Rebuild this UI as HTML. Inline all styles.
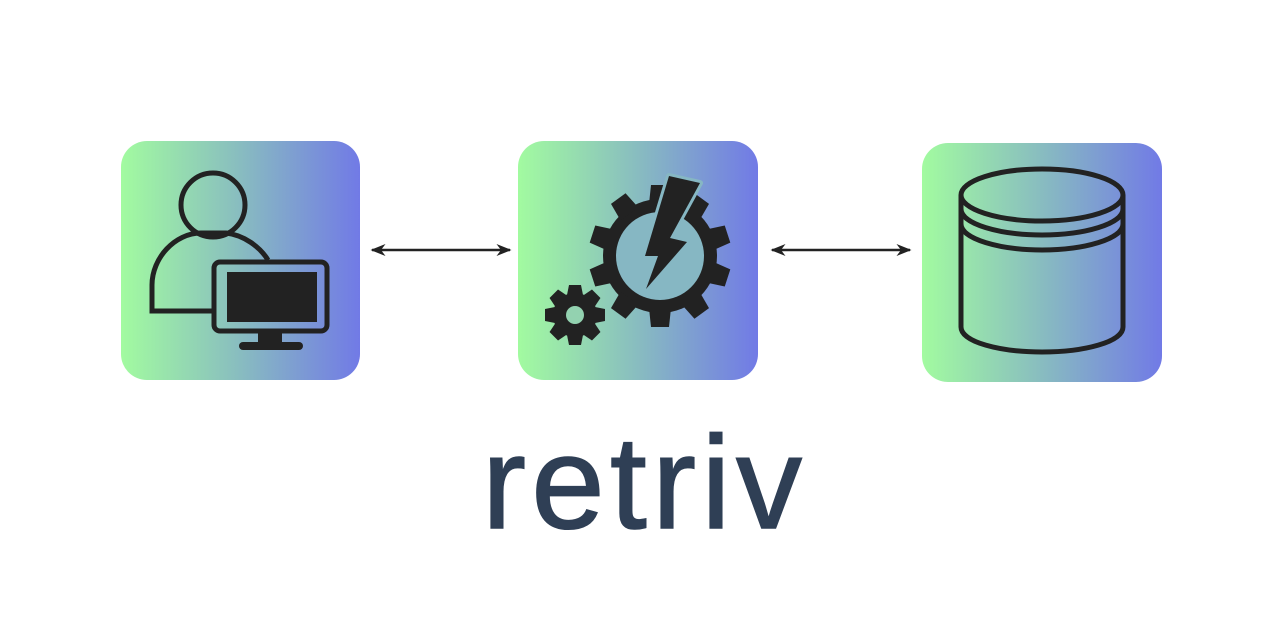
<!DOCTYPE html>
<html><head><meta charset="utf-8"><style>
html,body{margin:0;padding:0;background:#fff;width:1282px;height:642px;overflow:hidden}
</style></head><body>
<svg width="1282" height="642" viewBox="0 0 1282 642" xmlns="http://www.w3.org/2000/svg">
<defs>
<linearGradient id="g" x1="0" y1="0" x2="1" y2="0">
<stop offset="0" stop-color="#a2fba0"/><stop offset="0.5" stop-color="#88bcc0"/><stop offset="1" stop-color="#717ae6"/>
</linearGradient>
<marker id="ah" viewBox="0 0 10 10" refX="9" refY="5" markerWidth="15" markerHeight="15" markerUnits="userSpaceOnUse" orient="auto-start-reverse">
<path d="M0,1 L10,5 L0,9 L3,5 Z" fill="#222"/></marker>
<polygon id="tb" points="-11,-52 11,-52 9,-71 -9,-71"/>
<polygon id="ts" points="-8,-20 8,-20 6,-30 -6,-30"/>
</defs>
<rect x="121" y="141" width="239" height="239" rx="26" fill="url(#g)"/>
<rect x="518" y="141" width="240" height="239" rx="26" fill="url(#g)"/>
<rect x="922" y="143" width="240" height="239" rx="26" fill="url(#g)"/>

<line x1="372" y1="250" x2="510" y2="250" stroke="#222" stroke-width="2.5" marker-start="url(#ah)" marker-end="url(#ah)"/>
<line x1="772" y1="250" x2="910" y2="250" stroke="#222" stroke-width="2.5" marker-start="url(#ah)" marker-end="url(#ah)"/>

<!-- person -->
<g fill="none" stroke="#222" stroke-width="5">
<circle cx="213" cy="205" r="32"/>
<path d="M214,311 L152,311 L152,285 C152,258 175,233 201,233 L226,233 C244,235 260,247 268,260"/>
<rect x="214" y="262" width="113" height="69" rx="6"/>
</g>
<rect x="227" y="272" width="90" height="50" fill="#222"/>
<rect x="258" y="331" width="24" height="12" fill="#222"/>
<rect x="239" y="342" width="64" height="8" rx="4" fill="#222"/>

<!-- gears -->
<g fill="#222">
<g transform="translate(660,256)">
<circle r="57"/>
<use href="#tb"/>
<use href="#tb" transform="rotate(36)"/>
<use href="#tb" transform="rotate(72)"/>
<use href="#tb" transform="rotate(108)"/>
<use href="#tb" transform="rotate(144)"/>
<use href="#tb" transform="rotate(180)"/>
<use href="#tb" transform="rotate(216)"/>
<use href="#tb" transform="rotate(252)"/>
<use href="#tb" transform="rotate(288)"/>
<use href="#tb" transform="rotate(324)"/>
<circle r="44" fill="#86b7c3"/>
</g>
<g transform="translate(575,315)">
<circle r="22"/>
<use href="#ts"/>
<use href="#ts" transform="rotate(45)"/>
<use href="#ts" transform="rotate(90)"/>
<use href="#ts" transform="rotate(135)"/>
<use href="#ts" transform="rotate(180)"/>
<use href="#ts" transform="rotate(225)"/>
<use href="#ts" transform="rotate(270)"/>
<use href="#ts" transform="rotate(315)"/>
<circle r="9" fill="#93d2b0"/>
</g>
<polygon points="669,176 700,183 670,238 687,242 646,289 658,256 645,256" stroke="#86b7c3" stroke-width="6" stroke-linejoin="round" paint-order="stroke"/>
</g>

<!-- database -->
<g fill="none" stroke="#222" stroke-width="5">
<ellipse cx="1042" cy="195" rx="81" ry="26"/>
<path d="M961,209 C961,224 1000,235 1042,235 C1084,235 1123,224 1123,209"/>
<path d="M961,224 C961,239 1000,250 1042,250 C1084,250 1123,239 1123,224"/>
<path d="M961,195 L961,327 C961,342 1000,352 1042,352 C1084,352 1123,342 1123,327 L1123,195"/>
</g>

<text x="482" y="528" font-family="Liberation Sans, sans-serif" font-size="132" fill="#2f3f55" stroke="#2f3f55" stroke-width="1.5" textLength="320" lengthAdjust="spacing">retriv</text>
</svg>
</body></html>
